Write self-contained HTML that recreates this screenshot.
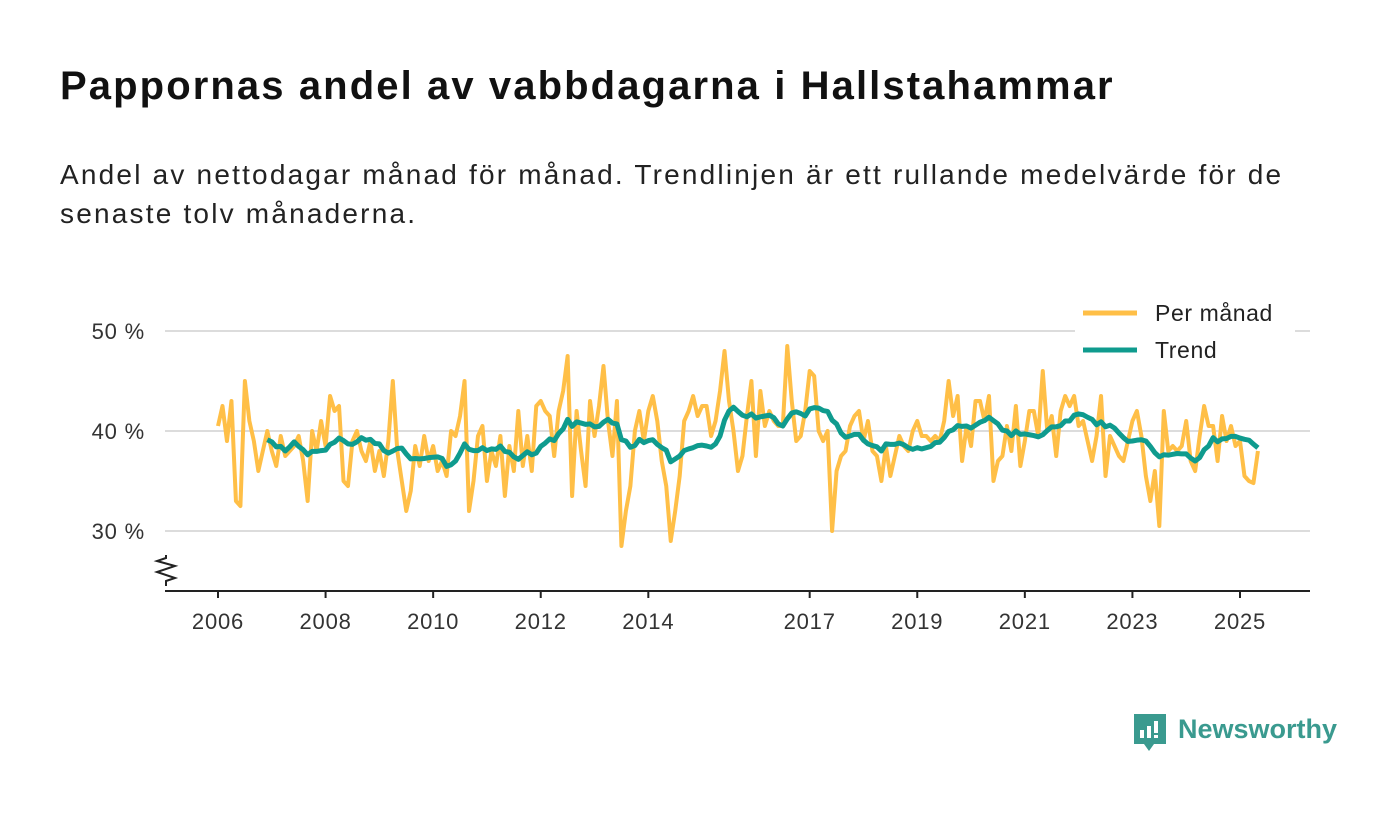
<!DOCTYPE html>
<html><head><meta charset="utf-8"><style>
body{margin:0;background:#fff;font-family:"Liberation Sans","DejaVu Sans",sans-serif;}
#wrap{position:relative;width:1400px;height:813px;overflow:hidden;}
h1{position:absolute;left:60px;top:64px;margin:0;font-size:40px;font-weight:bold;color:#111;letter-spacing:2.1px;white-space:nowrap;}
.sub{position:absolute;left:60px;top:155px;margin:0;font-size:28px;line-height:39px;color:#222;width:1300px;letter-spacing:2.2px;white-space:nowrap;}
svg{position:absolute;left:0;top:0;}
</style></head><body>
<div id="wrap">
<h1>Pappornas andel av vabbdagarna i Hallstahammar</h1>
<p class="sub">Andel av nettodagar månad för månad. Trendlinjen är ett rullande medelvärde för de<br>senaste tolv månaderna.</p>
<svg id="chart" width="1400" height="813"></svg>
</div>
<script>
const startYear = 2006;
const monthly = [
40.5,42.5,39,43,33,32.5,45,41,39,36,38,40,
38,36.5,39.5,37.5,38,38.5,39.5,37,33,40,38,41,
38.5,43.5,42,42.5,35,34.5,39,40,38,37,39,36,
38,35.5,39,45,38,35,32,34,38.5,36.5,39.5,37,
38.5,36,37,35.5,40,39.5,41.5,45,32,35,39.5,40.5,
35,38,36.5,39.5,33.5,38.5,36,42,36.5,39.5,36,42.5,
43,42,41.5,37.5,42,44,47.5,33.5,42,38,34.5,43,
39.5,42.5,46.5,41,37.5,43,28.5,32,34.5,40,42,39,
42,43.5,41,37,34.5,29,32,35.5,41,42,43.5,41.5,
42.5,42.5,39.5,41,44,48,43,40,36,37.5,41.5,45,
37.5,44,40.5,42,41,40.5,40.5,48.5,43,39,39.5,42,
46,45.5,40,39,40,30,36,37.5,38,40.5,41.5,42,
39,41,38,37.5,35,38.5,35.5,37.5,39.5,38.5,38,40,
41,39.5,39.5,39,39.5,39,41,45,41.5,43.5,37,40.5,
38.5,43,43,41,43.5,35,37,37.5,40.5,38,42.5,36.5,
39,42,42,39.5,46,40,41.5,37.5,42,43.5,42.5,43.5,
40.5,41,39,37,39.5,43.5,35.5,39.5,38.5,37.5,37,39,
41,42,39.5,35.5,33,36,30.5,42,38,38.5,38,38.5,
41,37,36,39.5,42.5,40.5,40.5,37,41.5,39,40.5,38.5,
39,35.5,35,34.8,38
];
const yTicks = [30,40,50];
const yTickLabels = ["30 %","40 %","50 %"];
const xTickYears = [2006,2008,2010,2012,2014,2017,2019,2021,2023,2025];
const legendLabels = ["Per månad","Trend"];

const NS="http://www.w3.org/2000/svg";
const svg=document.getElementById('chart');
function xScale(monthIndex){return 218+monthIndex*(1022/228);}
function yScale(v){return 331+(50-v)*10;}
function mk(t,a){const e=document.createElementNS(NS,t);for(const k in a)e.setAttribute(k,a[k]);svg.appendChild(e);return e;}

yTicks.forEach((t,i)=>{
  const g=mk('line',{x1:165,x2:1310,y1:yScale(t),y2:yScale(t),stroke:'#dcdcdc','stroke-width':2});
  
  
  const l=mk('text',{x:145,y:yScale(t)+8,'text-anchor':'end','font-size':22,fill:'#333','font-family':'Liberation Sans, sans-serif','letter-spacing':'0.8'});
  l.textContent=yTickLabels[i];
  
  
});
const ax=mk('line',{x1:165,x2:1310,y1:591,y2:591,stroke:'#222','stroke-width':2});


const zz=mk('polyline',{points:'166,586 166,581 175,578 157,572 175,566 157,561 166,558 166,555',fill:'none',stroke:'#222','stroke-width':2});


xTickYears.forEach(y=>{
  const x=xScale((y-startYear)*12);
  const t=mk('line',{x1:x,x2:x,y1:591,y2:598,stroke:'#222','stroke-width':2});
  
  
  const l=mk('text',{x:x,y:629,'text-anchor':'middle','font-size':22,fill:'#333','font-family':'Liberation Sans, sans-serif','letter-spacing':'0.8'});
  l.textContent=y;
  
  
});
const mp=mk('polyline',{points:monthly.map((v,i)=>xScale(i)+','+yScale(v)).join(' '),fill:'none',stroke:'#ffbf47','stroke-width':4,'stroke-linejoin':'round'});


const trendPts=[];
for(let i=11;i<monthly.length;i++){let s=0;for(let j=i-11;j<=i;j++)s+=monthly[j];trendPts.push(xScale(i)+','+yScale(s/12));}
const tr=mk('polyline',{points:trendPts.join(' '),fill:'none',stroke:'#0f9b8e','stroke-width':5,'stroke-linejoin':'round'});


const lb=mk('rect',{x:1075,y:295,width:220,height:72,fill:'#fff'});


[['#ffbf47',313],['#0f9b8e',350]].forEach((c,i)=>{
  const l=mk('line',{x1:1083,x2:1137,y1:c[1],y2:c[1],stroke:c[0],'stroke-width':5});
  
  
  const t=mk('text',{x:1155,y:c[1]+8,'font-size':23,fill:'#222','font-family':'Liberation Sans, sans-serif','letter-spacing':'0.6'});
  t.textContent=legendLabels[i];
  
  
});
const logo=document.createElementNS(NS,'g');


logo.innerHTML='<path d="M1134,714 h32 v30 h-12 l-5,7 l-5,-7 h-10 z" fill="#3a9a8f"/><rect x="1140" y="730" width="4" height="8" fill="#fff"/><rect x="1147" y="726" width="4" height="12" fill="#fff"/><rect x="1154" y="721" width="4" height="12" fill="#fff"/><rect x="1154" y="735" width="4" height="3" fill="#fff"/><text x="1178" y="738" font-size="27" font-weight="bold" fill="#3a9a8f" font-family="Liberation Sans, sans-serif">Newsworthy</text>';
svg.appendChild(logo);
</script>
</body></html>
